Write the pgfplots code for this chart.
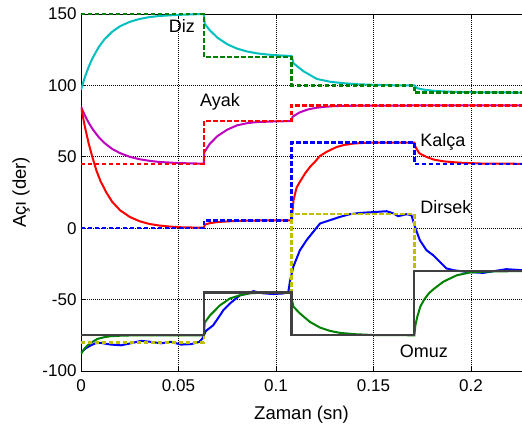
\documentclass[border=0pt]{standalone}
\usepackage{pgfplots}
\pgfplotsset{compat=1.18}
\usepackage{fontspec}
\setmainfont{Liberation Sans}
\definecolor{mcyan}{rgb}{0,0.75,0.75}
\definecolor{mgreen}{rgb}{0,0.5,0}
\definecolor{mmag}{rgb}{0.75,0,0.75}
\definecolor{myel}{rgb}{0.75,0.75,0}
\definecolor{mgray}{rgb}{0.25,0.25,0.25}
\begin{document}
\begin{tikzpicture}[font=\fontsize{17bp}{20bp}\selectfont]
\begin{axis}[
 scale only axis, width=441bp, height=357bp,
 xmin=0, xmax=0.2262, ymin=-100, ymax=150,
 axis x line*=box, axis y line*=left,
 xtick={0,0.05,0.1,0.15,0.2}, xticklabels={0,0.05,0.1,0.15,0.2},
 ytick={-100,-50,0,50,100,150}, yticklabels={-100,-50,0,50,100,150},
 xtick pos=both, ytick pos=left, tick align=inside,
 major tick length=4bp,
 tick style={black, line width=0.6bp},
 grid=major, grid style={black, line width=0.6bp, dash pattern=on 0.8bp off 1.2bp},
 axis line style={black, line width=0.8bp},
 xticklabel style={yshift=-5bp},
 yticklabel style={xshift=-1bp},
 xlabel={Zaman (sn)}, ylabel={Açı (der)},
 xlabel style={at={(axis description cs:0.5,0)}, anchor=base, yshift=-48bp, font=\fontsize{18.5bp}{22bp}\selectfont},
 ylabel style={at={(axis description cs:-0.136,0.5)}, anchor=center, font=\fontsize{18.5bp}{22bp}\selectfont},
 every axis plot/.append style={line width=2bp},
 refline/.style={line width=2.4bp, dash pattern=on 4.5bp off 2.5bp},
]
% ---- responses ----
% Diz response
\addplot[mcyan] coordinates {(0,97)(0.002,105.8)(0.004,113.2)(0.006,119.3)(0.009,126.6)(0.012,132.2)(0.016,137.6)(0.02,141.4)(0.025,144.5)(0.03,146.5)(0.035,147.8)(0.04,148.6)(0.05,149.4)(0.063,150)
(0.0635,143)(0.066,138.7)(0.07,133.4)(0.075,128.8)(0.08,125.8)(0.085,123.8)(0.09,122.5)(0.095,121.7)(0.1,121.1)(0.108,120.6)
(0.109,115.5)(0.114,110)(0.121,104.5)(0.128,102.5)(0.135,101.5)(0.142,100.8)(0.15,100.4)(0.16,100.1)(0.171,100)
(0.1725,98)(0.176,97)(0.181,96.2)(0.187,95.7)(0.194,95.4)(0.205,95.1)(0.2262,95)};
% Ayak response
\addplot[mmag] coordinates {(0,85)(0.002,78.9)(0.004,73.7)(0.006,69.3)(0.009,63.9)(0.012,59.7)(0.016,55.5)(0.02,52.6)(0.025,50)(0.03,48.3)(0.035,47.2)(0.04,46.4)(0.05,45.6)(0.063,45.2)
(0.0632,53)(0.066,59)(0.07,64.5)(0.075,69)(0.08,72)(0.085,73.5)(0.09,74.3)(0.1,74.8)(0.108,75)
(0.1085,78)(0.112,81)(0.116,83)(0.12,84.2)(0.125,85)(0.13,85.5)(0.14,85.8)(0.15,85.9)(0.2262,86)};
% Kalca response
\addplot[red] coordinates {(0,85)(0.002,71)(0.004,59)(0.006,49)(0.008,40)(0.01,33)(0.013,25)(0.016,18.5)(0.02,12.6)(0.025,7.9)(0.03,4.9)(0.035,3)(0.04,1.9)(0.045,1.2)(0.05,0.7)(0.063,0.3)
(0.0635,2.5)(0.066,3.5)(0.07,4.3)(0.078,5)(0.09,5.4)(0.108,5.5)
(0.1085,12)(0.109,19.6)(0.1106,28.5)(0.1125,33)(0.115,38.5)(0.1175,43)(0.12,46.5)(0.1225,50.5)(0.126,53.5)(0.131,56.8)(0.135,58.3)(0.14,59.3)(0.146,59.8)(0.155,60)(0.171,60)
(0.1715,57)(0.1735,52.5)(0.177,50)(0.181,48)(0.186,46.8)(0.194,45.9)(0.205,45.3)(0.2262,45.1)};
% Dirsek response
\addplot[blue] coordinates {(0,-87)(0.0025,-84)(0.0051,-82)(0.0075,-80.5)(0.0103,-80.3)(0.013,-81)(0.0154,-81.5)(0.0205,-82)(0.0256,-80.6)(0.0308,-78.9)(0.0359,-79.6)(0.041,-80.6)(0.046,-79.6)(0.0513,-81.5)(0.0564,-81.2)(0.0607,-79.6)(0.0624,-77)
(0.064,-72)(0.0678,-68)(0.0713,-61)(0.073,-57.4)(0.0764,-52.7)(0.0815,-47)(0.0867,-45.3)(0.0883,-44.1)(0.0935,-45.6)(0.0987,-46.1)(0.1037,-45.7)(0.1063,-44.9)
(0.1072,-37)(0.1089,-27)(0.1123,-15.4)(0.1157,-8.4)(0.1191,-2.6)(0.1226,3.3)(0.1277,5.6)(0.1328,7.9)(0.1379,9.8)(0.1431,10.7)(0.1516,11.4)(0.1567,11.9)(0.16,10.5)(0.1627,8.4)(0.167,9.8)(0.1695,9.1)
(0.1713,0.9)(0.1738,-8.4)(0.1772,-15.4)(0.1806,-18.9)(0.1841,-23.6)(0.1875,-28.2)(0.191,-29.4)(0.1978,-30.6)(0.2063,-31.3)(0.2148,-29.4)(0.2182,-28.7)(0.2262,-29.4)};
% Omuz response
\addplot[mgreen] coordinates {(0,-88)(0.002,-84)(0.0034,-82)(0.006,-79.5)(0.0085,-77.5)(0.012,-76.3)(0.0154,-75.6)(0.02,-75.3)(0.0256,-75.1)(0.04,-75)(0.063,-75)
(0.0635,-66)(0.0662,-61)(0.0713,-54)(0.0764,-49.2)(0.0815,-47)(0.0867,-45.6)(0.0935,-45.1)(0.108,-45)
(0.1083,-51)(0.109,-55)(0.1123,-59.7)(0.1174,-65.6)(0.1226,-69.6)(0.1277,-71.9)(0.1328,-73.3)(0.14,-74.2)(0.15,-74.8)(0.171,-75)
(0.1715,-68)(0.1725,-62)(0.174,-55)(0.176,-50)(0.1785,-45.5)(0.181,-42.5)(0.1858,-37.5)(0.1927,-33)(0.1995,-31)(0.207,-30.4)(0.2262,-30)};
% ---- references ----
\addplot[mgreen, refline] coordinates {(0,150)(0.063,150)(0.063,120)(0.108,120)(0.108,100)(0.171,100)(0.171,95)(0.2262,95)};
\addplot[red, refline] coordinates {(0,45)(0.063,45)(0.063,75)(0.108,75)(0.108,86)(0.2262,86)};
\addplot[blue, refline] coordinates {(0,0)(0.063,0)(0.063,5.5)(0.108,5.5)(0.108,60)(0.171,60)(0.171,45)(0.2262,45)};
\addplot[myel, refline] coordinates {(0,-80)(0.063,-80)(0.063,-45)(0.108,-45)(0.108,10)(0.171,10)(0.171,-30)(0.2262,-30)};
\addplot[mgray, line width=2.2bp] coordinates {(0,-75)(0.063,-75)(0.063,-45)(0.108,-45)(0.108,-75)(0.171,-75)(0.171,-30)(0.2262,-30)};
% ---- labels ----
\node[font=\fontsize{18bp}{21bp}\selectfont] at (axis cs:0.0518,141.5) {Diz};
\node[font=\fontsize{18bp}{21bp}\selectfont] at (axis cs:0.0713,88.2) {Ayak};
\node[font=\fontsize{18bp}{21bp}\selectfont] at (axis cs:0.1856,60.4) {Kalça};
\node[font=\fontsize{18bp}{21bp}\selectfont] at (axis cs:0.1872,15) {Dirsek};
\node[font=\fontsize{18bp}{21bp}\selectfont] at (axis cs:0.1759,-86.1) {Omuz};
\end{axis}
\pgfresetboundingbox
\path ([xshift=-81bp,yshift=-53bp]current axis.south west) rectangle ([yshift=14bp]current axis.north east);
\end{tikzpicture}
\end{document}
